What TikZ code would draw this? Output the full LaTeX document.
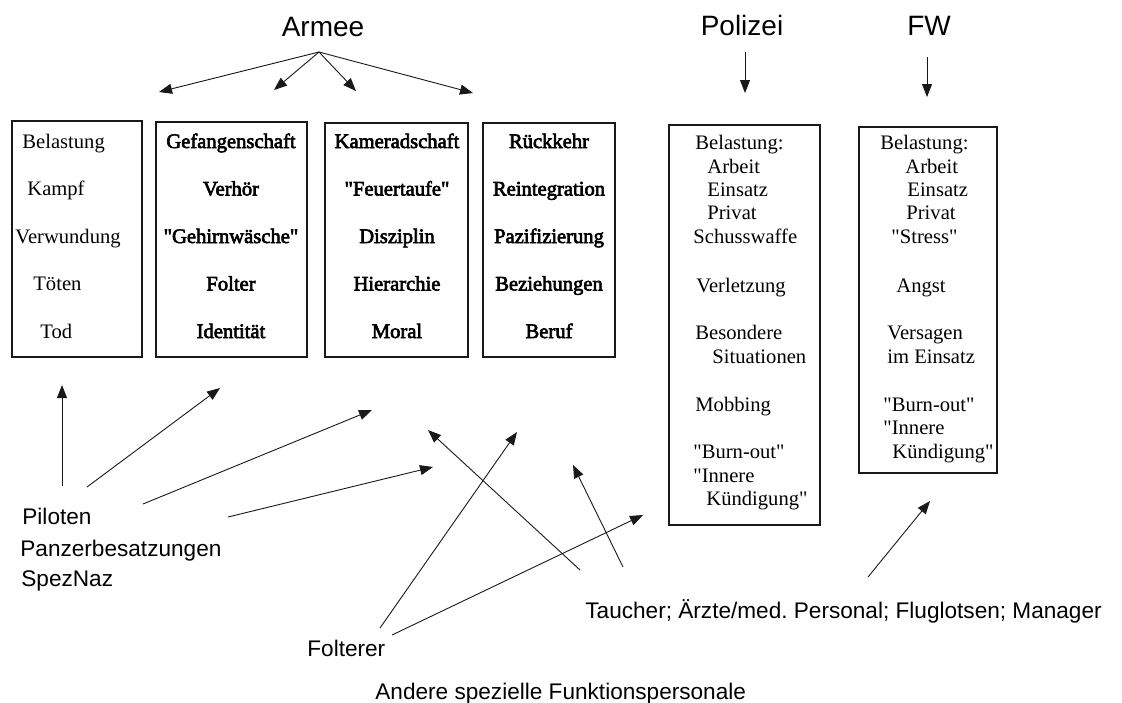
\documentclass[tikz,border=0pt]{standalone}
\usepackage{fontspec}
\setmainfont{Liberation Serif}
\setsansfont{Liberation Sans}
\newfontfamily\scanlight{Liberation Serif}
\newfontfamily\scandark{Liberation Serif}[FakeBold=3]
\usetikzlibrary{arrows.meta,positioning}
\definecolor{fbInk}{RGB}{25,25,25}
\tikzset{
  fbframe/.style={draw=fbInk,line width=0.55pt,inner sep=0pt},
  fbitem/.style={font=\scanlight\fontsize{10.3}{11.75}\selectfont,inner sep=0pt,anchor=base west},
  fbdark/.style={font=\scandark\fontsize{10.3}{11.75}\selectfont,inner sep=0pt,anchor=base},
  fbhead/.style={font=\sffamily\fontsize{14}{16}\selectfont,inner sep=0pt,anchor=base},
  fblabel/.style={font=\sffamily\fontsize{11.3}{15}\selectfont,inner sep=0pt,anchor=base west},
  fbarrow/.style={draw=fbInk,line width=0.45pt,-{Triangle[length=6.5pt,width=5pt]}}
}

\begin{document}
\begin{tikzpicture}[x=0.5pt,y=-0.5pt]
  \useasboundingbox (0,0) rectangle (1122,702);

  \node[fbhead] (armee) at (323,36) {Armee};
  \node[fbhead] (polizei) at (742,35) {Polizei};
  \node[fbhead] (fw) at (929,35) {FW};

  \foreach \n/\l/\t/\r/\b in {arm1/12/121/142/357,arm2/156/122/307/357,arm3/325/123/468/357,
      arm4/483/123/615/357,pol/669/125/820/525,feuer/859/127/997/473} {
    \node[fbframe,minimum width={(\r-\l)*0.5pt},minimum height={(\b-\t)*0.5pt}]
      (\n) at ({(\l+\r)/2},{(\t+\b)/2}) {};
  }

  \foreach \x/\y/\txt [count=\i] in {22/148/Belastung,27/195/Kampf,15/243/Verwundung,
      33/290/Töten,40/338/Tod}
    \node[fbitem] (arm1-\i) at (\x,\y) {\txt};
  \foreach \txt [count=\i] in {Gefangenschaft,Verhör,"Gehirnwäsche",Folter,Identität}
    \node[fbdark] (arm2-\i) at (231,{100.5+47.5*\i}) {\txt};
  \foreach \txt [count=\i] in {Kameradschaft,"Feuertaufe",Disziplin,Hierarchie,Moral}
    \node[fbdark] (arm3-\i) at (397,{100.5+47.5*\i}) {\txt};
  \foreach \txt [count=\i] in {Rückkehr,Reintegration,Pazifizierung,Beziehungen,Beruf}
    \node[fbdark] (arm4-\i) at (549,{100.5+47.5*\i}) {\txt};

  \foreach \x/\y/\txt [count=\i] in {695/149/Belastung:,707/173/Arbeit,707/196/Einsatz,
      707/219/Privat,693/243/Schusswaffe,696/292/Verletzung,695/339/Besondere,
      712/363/Situationen,695/411/Mobbing,693/458/"Burn-out",693/482/"Innere,
      706/505/Kündigung"}
    \node[fbitem] (pol-\i) at (\x,\y) {\txt};
  \foreach \x/\y/\txt [count=\i] in {880/149/Belastung:,905/173/Arbeit,907/196/Einsatz,
      906/219/Privat,891/243/"Stress",896/292/Angst,887/339/Versagen,
      887/363/im Einsatz,883/411/"Burn-out",883/434/"Innere,892/458/Kündigung"}
    \node[fbitem] (feuer-\i) at (\x,\y) {\txt};

  \node[fblabel] (piloten) at (22,524) {Piloten};
  \node[fblabel] (panzer) at (20,556) {Panzerbesatzungen};
  \node[fblabel] (speznaz) at (21,586) {SpezNaz};
  \node[fblabel] (folterer) at (307,656) {Folterer};
  \node[fblabel] (taucher) at (585,618) {Taucher; Ärzte/med.\ Personal; Fluglotsen; Manager};
  \node[fblabel] (andere) at (375,699) {Andere spezielle Funktionspersonale};

  \foreach \n/\x/\y in {fan/319/52,fan-1/159/92,fan-2/274/90,fan-3/356/91,fan-4/473/93,
      pol-top/745/52,pol-in/745/93,fw-top/927/57,fw-in/927/97,
      sol-1/62/486,sol-1t/62/385,sol-2/87/487,sol-2t/220/388,sol-3/143/504,sol-3t/372/410,
      sol-4/228/517,sol-4t/433/467,fol-1/380/628,fol-1t/517/432,fol-2/392/635,fol-2t/643/515,
      tau-1/580/570,tau-1t/428/430,tau-2/623/567,tau-2t/573/465,tau-3/868/577,tau-3t/930/501}
    \coordinate (\n) at (\x,\y);

  \foreach \a/\b in {fan/fan-1,fan/fan-2,fan/fan-3,fan/fan-4,pol-top/pol-in,fw-top/fw-in,
      sol-1/sol-1t,sol-2/sol-2t,sol-3/sol-3t,sol-4/sol-4t,fol-1/fol-1t,fol-2/fol-2t,
      tau-1/tau-1t,tau-2/tau-2t,tau-3/tau-3t}
    \draw[fbarrow] (\a) -- (\b);
\end{tikzpicture}
\end{document}
